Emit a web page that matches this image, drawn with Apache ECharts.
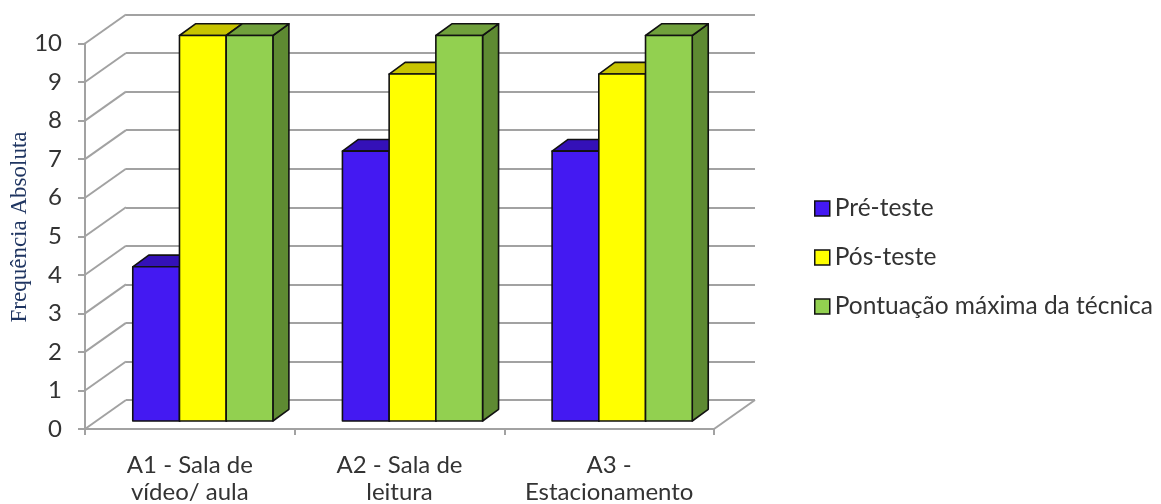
<!DOCTYPE html>
<html>
<head>
<meta charset="utf-8">
<script src="https://cdn.jsdelivr.net/npm/echarts@6/dist/echarts.min.js"></script>
<style>
  html, body { margin: 0; padding: 0; background: #fff; }
  #chart { width: 1161px; height: 504px; }
</style>
</head>
<body>
<div id="chart"></div>
<script>
// Categories (two-line labels) and the three series
const categories = [
  'A1 - Sala de\nvídeo/ aula',
  'A2 - Sala de\nleitura',
  'A3 -\nEstacionamento'
];
const seriesNames = ['Pré-teste', 'Pós-teste', 'Pontuação máxima da técnica'];
const preTeste = [4, 7, 7];
const posTeste = [10, 9, 9];
const pontuacaoMaxima = [10, 10, 10];
const yTickValues = [0, 1, 2, 3, 4, 5, 6, 7, 8, 9, 10];

// Face colours for each series: front, top, right side
const faceColors = [
  { front: '#4419F2', top: '#3411B8', side: '#2A0E96' },
  { front: '#FFFF00', top: '#C8C400', side: '#B0AC00' },
  { front: '#92D050', top: '#70A03C', side: '#5E8A32' }
];

// Pseudo-3D geometry (pixels)
const WALL_DEPTH = [41, -29];   // front plane -> back wall
const BAR_SHIFT = [13, -8];     // front plane -> bar front faces
const BAR_DEPTH = [16, -11.7];  // bar thickness
const BAR_FRAC = 0.2228;        // bar width as share of a category band
const GRID_COLOR = '#a2a2a2';
const TEXT_COLOR = '#333333';
const FONT = 'Lato, "Open Sans", sans-serif';

const chart = echarts.init(document.getElementById('chart'), null, { renderer: 'canvas' });

function barRenderer(idx) {
  const c = faceColors[idx];
  return function (params, api) {
    const cat = api.value(0);
    const val = api.value(1);
    const bw = api.size([1, 0])[0];
    const base = api.coord([cat, 0]);
    const top = api.coord([cat, val]);
    const barW = bw * BAR_FRAC;
    const x0 = base[0] - 1.5 * barW + idx * barW + BAR_SHIFT[0];
    const x1 = x0 + barW;
    const yb = base[1] + BAR_SHIFT[1];
    const yt = top[1] + BAR_SHIFT[1];
    const dx = BAR_DEPTH[0], dy = BAR_DEPTH[1];
    const edge = { stroke: '#111', lineWidth: 1.6, lineJoin: 'round' };
    return {
      type: 'group',
      children: [
        { type: 'polygon', shape: { points: [[x1, yt], [x1 + dx, yt + dy], [x1 + dx, yb + dy], [x1, yb]] },
          style: Object.assign({ fill: c.side }, edge) },
        { type: 'polygon', shape: { points: [[x0, yt], [x1, yt], [x1 + dx, yt + dy], [x0 + dx, yt + dy]] },
          style: Object.assign({ fill: c.top }, edge) },
        { type: 'rect', shape: { x: x0, y: yt, width: barW, height: yb - yt },
          style: Object.assign({ fill: c.front }, edge) }
      ]
    };
  };
}

const seriesData = [preTeste, posTeste, pontuacaoMaxima];

const barSeries = seriesData.map((vals, i) => ({
  name: seriesNames[i],
  type: 'custom',
  xAxisIndex: 0,
  yAxisIndex: 0,
  z: 10 + i,
  itemStyle: { color: faceColors[i].front },
  renderItem: barRenderer(i),
  encode: { x: 0, y: 1 },
  data: vals.map((v, k) => [k, v])
}));

// Side-wall gridlines: one diagonal per y tick, from the front axis to the back wall
const sideWall = {
  type: 'custom',
  xAxisIndex: 0,
  yAxisIndex: 0,
  z: 2,
  silent: true,
  legendHoverLink: false,
  renderItem: function (params, api) {
    const v = api.value(1);
    const bw = api.size([1, 0])[0];
    const p = api.coord([0, v]);
    const x = p[0] - bw / 2;
    return {
      type: 'line',
      shape: { x1: x, y1: p[1], x2: x + WALL_DEPTH[0], y2: p[1] + WALL_DEPTH[1] },
      style: { stroke: GRID_COLOR, lineWidth: 2 }
    };
  },
  encode: { x: 0, y: 1 },
  data: yTickValues.map(v => [0, v])
};

// Right edge of the floor
const floorEdge = {
  type: 'custom',
  xAxisIndex: 0,
  yAxisIndex: 0,
  z: 2,
  silent: true,
  renderItem: function (params, api) {
    const bw = api.size([1, 0])[0];
    const p = api.coord([api.value(0), 0]);
    const x = p[0] + bw / 2;
    return {
      type: 'line',
      shape: { x1: x, y1: p[1], x2: x + WALL_DEPTH[0], y2: p[1] + WALL_DEPTH[1] },
      style: { stroke: GRID_COLOR, lineWidth: 2 }
    };
  },
  encode: { x: 0, y: 1 },
  data: [[categories.length - 1, 0]]
};

const option = {
  backgroundColor: '#ffffff',
  animation: false,
  legend: {
    orient: 'vertical',
    left: 809,
    top: 191,
    itemWidth: 15,
    itemHeight: 15,
    itemGap: 24,
    icon: 'rect',
    data: seriesNames,
    itemStyle: { borderColor: '#111', borderWidth: 1.5 },
    textStyle: { color: TEXT_COLOR, fontFamily: FONT, fontSize: 24.5, lineHeight: 24, padding: [0, 0, 0, 0] }
  },
  grid: [
    // front plane (axes, labels, bars)
    { left: 85, top: 43.5, width: 629, height: 385.5, containLabel: false, outerBoundsMode: 'none' },
    // back wall (horizontal gridlines)
    { left: 126, top: 14.5, width: 629, height: 385.5, containLabel: false, outerBoundsMode: 'none' }
  ],
  xAxis: [
    {
      type: 'category',
      gridIndex: 0,
      data: categories,
      boundaryGap: true,
      axisLine: { show: true, lineStyle: { color: GRID_COLOR, width: 2 } },
      axisTick: { show: true, length: 6, alignWithLabel: false, lineStyle: { color: GRID_COLOR, width: 2 } },
      axisLabel: { color: TEXT_COLOR, fontFamily: FONT, fontSize: 24, lineHeight: 27, margin: 23, interval: 0 },
      splitLine: { show: false }
    },
    {
      type: 'value',
      gridIndex: 1,
      min: 0, max: 1,
      show: false
    }
  ],
  yAxis: [
    {
      type: 'value',
      gridIndex: 0,
      min: 0, max: 10, interval: 1,
      axisLine: { show: true, lineStyle: { color: GRID_COLOR, width: 2 } },
      axisTick: { show: true, length: 7, inside: false, lineStyle: { color: GRID_COLOR, width: 2 } },
      axisLabel: { color: TEXT_COLOR, fontFamily: FONT, fontSize: 24, margin: 23 },
      splitLine: { show: false }
    },
    {
      type: 'value',
      gridIndex: 1,
      min: 0, max: 10, interval: 1,
      axisLine: { show: false },
      axisTick: { show: false },
      axisLabel: { show: false },
      splitLine: { show: true, lineStyle: { color: GRID_COLOR, width: 2 } }
    }
  ],
  graphic: [
    {
      type: 'text',
      x: 20,
      y: 227,
      rotation: Math.PI / 2,
      style: {
        text: 'Frequência Absoluta',
        fill: '#1F3561',
        font: '23px "Liberation Serif", "DejaVu Serif", serif',
        textAlign: 'center',
        textVerticalAlign: 'middle'
      }
    }
  ],
  series: [sideWall, floorEdge].concat(barSeries)
};

chart.setOption(option);
</script>
</body>
</html>
